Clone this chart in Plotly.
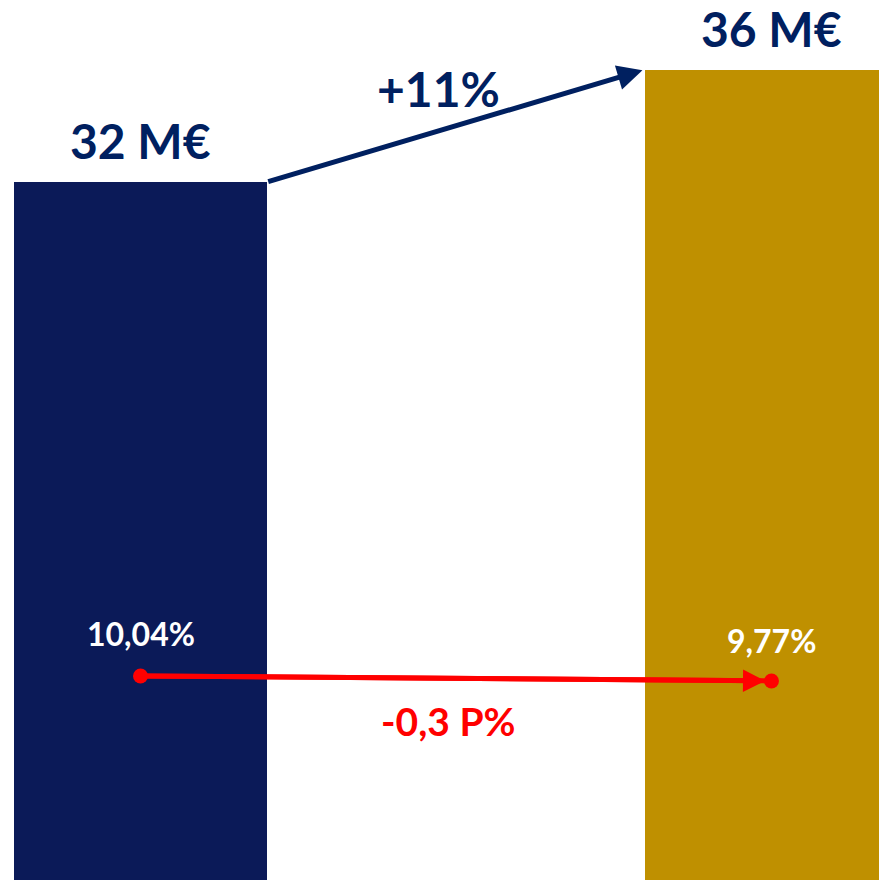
import plotly.graph_objects as go

# Data
categories = ["A", "B"]
revenue = [32, 36]            # M€
revenue_labels = ["32 M€", "36 M€"]
growth_label = "+11%"
margin_pct = [10.04, 9.77]    # %
margin_labels = ["10,04%", "9,77%"]
margin_change_label = "-0,3 P%"

NAVY_BAR = "#0B1A58"
NAVY_TXT = "#002060"
GOLD = "#BF9000"
RED = "#FF0000"
FONT = "Lato, 'Open Sans', sans-serif"

xs = [0, 1]
fig = go.Figure()
fig.add_trace(go.Bar(x=xs, y=revenue, width=0.401,
                     marker=dict(color=[NAVY_BAR, GOLD], line=dict(width=0)),
                     hoverinfo="skip", showlegend=False))
fig.add_trace(go.Scatter(x=xs, y=margin_pct, yaxis="y2", mode="lines+markers",
                         line=dict(color=RED, width=5),
                         marker=dict(color=RED, size=15),
                         hoverinfo="skip", showlegend=False))

ann = []
# revenue labels
for i, (v, t) in enumerate(zip(revenue, revenue_labels)):
    ann.append(dict(x=xs[i], y=v, xref="x", yref="y", text=f"<b>{t}</b>",
                    showarrow=False, yanchor="middle", yshift=42,
                    font=dict(family=FONT, size=48, color=NAVY_TXT)))
# growth arrow
ann.append(dict(x=1 - 0.2045, y=revenue[1], ax=0.2, ay=revenue[0],
                xref="x", yref="y", axref="x", ayref="y", text="",
                showarrow=True, arrowhead=2, arrowsize=1.0, arrowwidth=5,
                arrowcolor=NAVY_TXT, standoff=0, startstandoff=0))
ann.append(dict(x=0.5, y=(revenue[0] + revenue[1]) / 2, xref="x", yref="y",
                text=f"<b>{growth_label}</b>", showarrow=False,
                xshift=-18, yshift=38,
                font=dict(family=FONT, size=48, color=NAVY_TXT)))
# margin labels
for i, (v, t, s) in enumerate(zip(margin_pct, margin_labels, [42, 40])):
    ann.append(dict(x=xs[i], y=v, xref="x", yref="y2", text=f"<b>{t}</b>",
                    showarrow=False, yshift=s,
                    font=dict(family=FONT, size=32, color="white")))
# red arrowhead
ann.append(dict(x=xs[1], y=margin_pct[1], ax=xs[0], ay=margin_pct[0],
                xref="x", yref="y2", axref="x", ayref="y2", text="",
                showarrow=True, arrowhead=2, arrowsize=0.9, arrowwidth=5,
                arrowcolor=RED, standoff=6, startstandoff=0))
ann.append(dict(x=0.5, y=sum(margin_pct) / 2, xref="x", yref="y2",
                text=f"<b>{margin_change_label}</b>", showarrow=False,
                xshift=-8, yshift=-43,
                font=dict(family=FONT, size=39, color=RED)))

fig.update_layout(
    width=879, height=880,
    margin=dict(l=0, r=0, t=0, b=0),
    paper_bgcolor="white", plot_bgcolor="white",
    xaxis=dict(range=[-0.2227, 1.1704], visible=False, fixedrange=True),
    yaxis=dict(range=[7, 38.52], visible=False, fixedrange=True),
    yaxis2=dict(range=[-0.98, 46.54], visible=False, overlaying="y", fixedrange=True),
    annotations=ann,
    bargap=0,
)

fig.write_html("out.html", config={"displayModeBar": False},
               post_script="document.body.style.margin='0';")
